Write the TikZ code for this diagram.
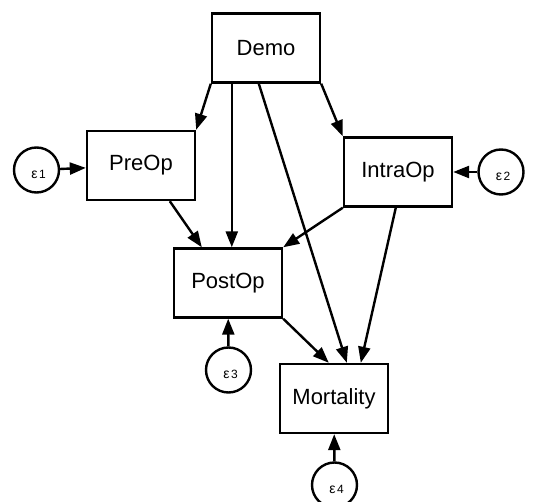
\documentclass[tikz,border=0pt]{standalone}
\usepackage{fontspec}
\setmainfont{Liberation Sans}
\usetikzlibrary{arrows.meta,calc}
\newcommand{\epslab}[1]{{\fontsize{14}{14}\selectfont ε}\hspace{1.5pt}#1}
\begin{document}
\begin{tikzpicture}[x=1pt,y=-1pt,
  box/.style={draw,line width=2.4pt,minimum width=108pt,minimum height=69pt,inner sep=0pt,font=\fontsize{22}{24}\selectfont},
  err/.style={draw,circle,line width=2.4pt,minimum size=45pt,inner sep=0pt},
  errlab/.style={inner sep=0pt,font=\fontsize{12}{14}\selectfont},
  conn/.style={line width=2.4pt,-{Triangle[length=16pt,width=12pt]}}]
\useasboundingbox (0,0) rectangle (539,502);
\node[box] (Demo) at (266,48) {Demo};
\node[box] (PreOp) at (141,165.5) {PreOp};
\node[box] (IntraOp) at (398,172) {IntraOp};
\node[box] (PostOp) at (228,283) {PostOp};
\node[box] (Mort) at (334,398.5) {Mortality};
\node[err] (e1) at (36.5,170) {};
\node[err] (e2) at (501,172) {};
\node[err] (e3) at (228.5,370) {};
\node[err] (e4) at (334.5,485) {};
\node[errlab] (l1) at ($(e1.center)+(2,4)$) {\epslab{1}};
\node[errlab] (l2) at ($(e2.center)+(2,4)$) {\epslab{2}};
\node[errlab] (l3) at ($(e3.center)+(2,4)$) {\epslab{3}};
\node[errlab] (l4) at ($(e4.center)+(2,4)$) {\epslab{4}};
\draw[conn] (Demo.south west) -- (PreOp.north east);
\draw[conn] (Demo.south east) -- (IntraOp.north west);
\draw[conn] ([xshift=21pt]Demo.south west) -- ([xshift=59pt]PostOp.north west);
\draw[conn] ([xshift=48pt]Demo.south west) -- ([xshift=68pt]Mort.north west);
\draw[conn] ([xshift=84pt]PreOp.south west) -- ([xshift=29pt]PostOp.north west);
\draw[conn] (IntraOp.south west) -- (PostOp.north east);
\draw[conn] ([xshift=53pt]IntraOp.south west) -- ([xshift=82pt]Mort.north west);
\draw[conn] (PostOp.south east) -- ([xshift=50pt]Mort.north west);
\draw[conn] (e1) -- (PreOp);
\draw[conn] (e2) -- (IntraOp);
\draw[conn] (e3) -- (PostOp);
\draw[conn] (e4) -- (Mort);
\end{tikzpicture}
\end{document}
